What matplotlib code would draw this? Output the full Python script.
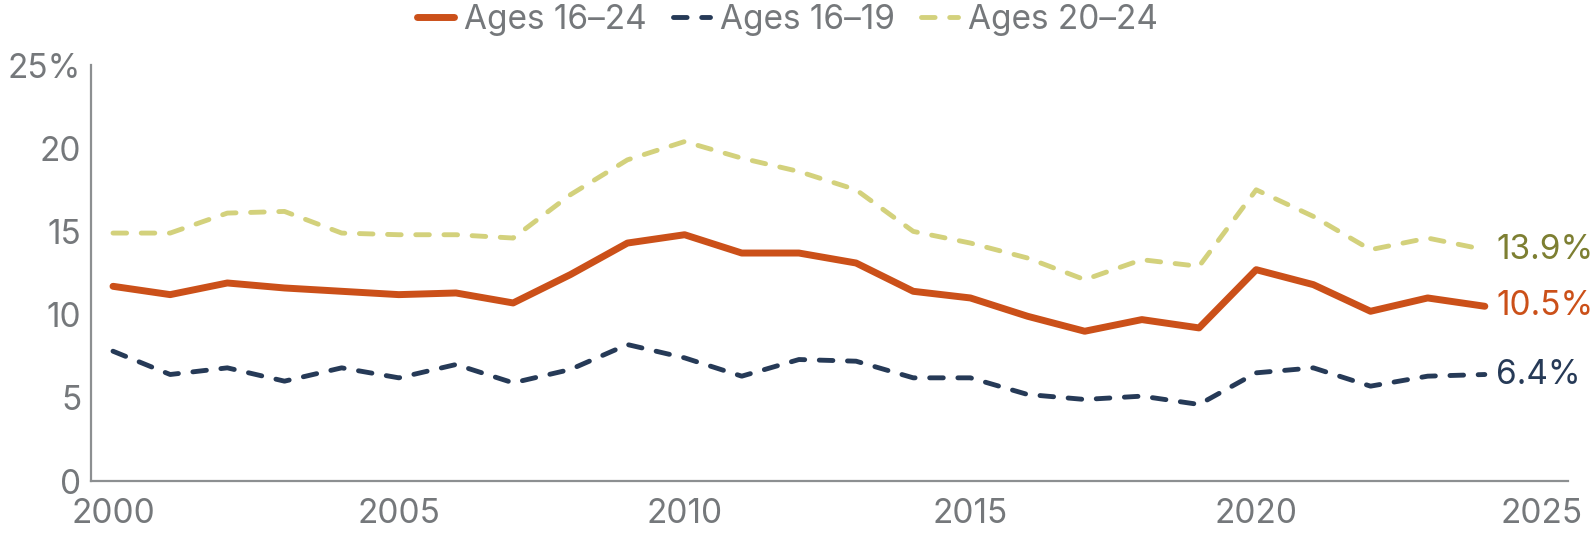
import matplotlib
matplotlib.use('Agg')
import matplotlib.pyplot as plt
import numpy as np

plt.rcParams['font.family'] = ['Inter', 'DejaVu Sans']

years = list(range(2000, 2025))

# unemployment rate, %
ages_16_24 = [11.7, 11.2, 11.9, 11.6, 11.4, 11.2, 11.3, 10.7, 12.4, 14.3,
              14.8, 13.7, 13.7, 13.1, 11.4, 11.0, 9.9, 9.0, 9.7, 9.2,
              12.7, 11.8, 10.2, 11.0, 10.5]
ages_16_19 = [7.8, 6.4, 6.8, 6.0, 6.8, 6.2, 7.0, 5.9, 6.7, 8.2,
              7.4, 6.3, 7.3, 7.2, 6.2, 6.2, 5.2, 4.9, 5.1, 4.6,
              6.5, 6.8, 5.7, 6.3, 6.4]
ages_20_24 = [14.9, 14.9, 16.1, 16.2, 14.9, 14.8, 14.8, 14.6, 17.2, 19.3,
              20.4, 19.4, 18.6, 17.5, 15.0, 14.3, 13.4, 12.1, 13.3, 12.9,
              17.5, 15.9, 13.9, 14.6, 13.9]

y_ticks = [0, 5, 10, 15, 20, 25]
y_labels = ['0', '5', '10', '15', '20', '25%']
x_ticks = [2000, 2005, 2010, 2015, 2020, 2025]

c_orange = '#cb5019'
c_navy = '#263a57'
c_yellow = '#d3d17c'
c_olive = '#7d7f32'
c_grey = '#75787b'
fs = 24

fig = plt.figure(figsize=(15.91, 5.34), dpi=100)
ax = fig.add_axes([91/1591, 53/534, (1568-91)/1591, (481-65)/534])

ax.plot(years, ages_16_24, color=c_orange, lw=5, solid_capstyle='round',
        solid_joinstyle='round', label='Ages 16\u201324', zorder=3)
ax.plot(years, ages_16_19, color=c_navy, lw=3.5, dashes=(2.8, 3.0),
        dash_capstyle='round', label='Ages 16\u201319', zorder=2)
ax.plot(years, ages_20_24, color=c_yellow, lw=3.5, dashes=(2.8, 3.0),
        dash_capstyle='round', label='Ages 20\u201324', zorder=1)

# end labels
for vals, col in [(ages_20_24, c_olive), (ages_16_24, c_orange), (ages_16_19, c_navy)]:
    ax.annotate('%.1f%%' % vals[-1], xy=(years[-1], vals[-1]), xytext=(8, 0),
                textcoords='offset points', va='center', ha='left',
                fontsize=fs, color=col, annotation_clip=False)

ax.set_xlim(1999.615, 2025.455)
ax.set_ylim(0, 25)
ax.set_xticks(x_ticks)
ax.set_yticks(y_ticks)
ax.set_yticklabels(y_labels)
ax.tick_params(axis='both', length=0, labelsize=fs, labelcolor=c_grey)
ax.tick_params(axis='y', pad=7)
ax.tick_params(axis='x', pad=12)

for s in ['top', 'right']:
    ax.spines[s].set_visible(False)
for s in ['left', 'bottom']:
    ax.spines[s].set_color('#8c8f91')
    ax.spines[s].set_linewidth(1.6)

leg = fig.legend(loc='center', bbox_to_anchor=(0.495, 1 - 20/534), ncol=3,
                 frameon=False, fontsize=fs, handlelength=1.1,
                 handletextpad=0.3, columnspacing=0.8, borderaxespad=0)
for t in leg.get_texts():
    t.set_color(c_grey)

fig.savefig('out.png', dpi=100)
